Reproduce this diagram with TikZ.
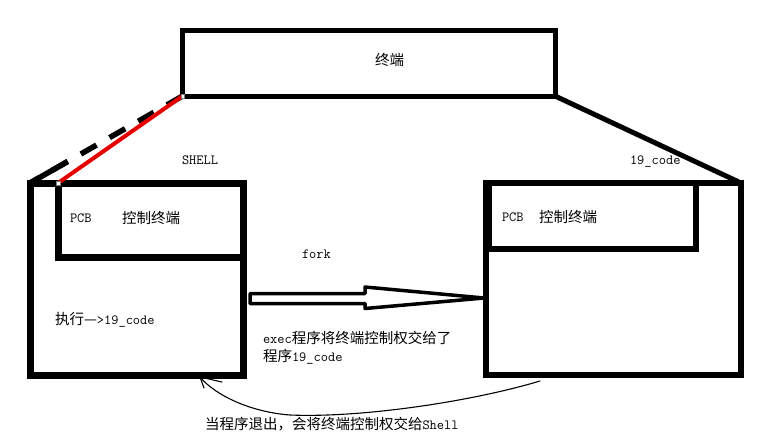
\documentclass[tikz,border=0pt]{standalone}
\usepackage{fontspec}
\setmonofont{Latin Modern Mono}
\newfontfamily\cjkfont{Noto Sans CJK SC}
\usetikzlibrary{calc}
\newcommand{\zh}[1]{{\cjkfont\fontsize{14.5pt}{18pt}\selectfont #1}}
\begin{document}
\begin{tikzpicture}[x=1pt,y=-1pt,
  box/.style={draw=black, inner sep=0pt, outer sep=0pt},
  txt/.style={inner sep=0pt, outer sep=0pt, anchor=west, font=\ttfamily\fontsize{14pt}{18pt}\selectfont},
  handle/.style={draw=gray, fill=white, line width=0.5pt, minimum size=3.5pt, inner sep=0pt, outer sep=0pt},
  thin/.style={line width=1.1pt, line cap=round, line join=round}]
\useasboundingbox[fill=white] (0,0) rectangle (781,447);

% boxes
\node[box, line width=5pt, minimum width=372.5pt, minimum height=66pt] (term) at (368.75,63) {};
\node[box, line width=7pt, minimum width=213pt, minimum height=192pt] (lbox) at (136.5,279) {};
\node[box, line width=7pt, minimum width=185pt, minimum height=74pt] (lpcb) at (150.5,220) {};
\node[box, line width=6pt, minimum width=255pt, minimum height=192pt] (rbox) at (613.5,279) {};
\node[box, line width=6pt, minimum width=207pt, minimum height=66pt] (rpcb) at (592.5,216) {};

% connectors top
\draw[line width=5.5pt, dash pattern=on 18pt off 15pt] (term.south west) -- (lbox.north west);
\draw[line width=5.5pt] (lbox.north west) -- ($(lbox.north west)!43pt!(term.south west)$);
\draw[red!90!black, line width=4pt] (lpcb.north west) -- (term.south west);
\node[handle] (h1) at (lpcb.north west) {};
\node[handle] (h2) at (term.south west) {};
\draw[line width=5pt] (term.south east) -- (rbox.north east);

% texts
\node[txt] (termlbl) at (375,60) {\zh{终端}};
\node[txt] (shell) at (182,160) {SHELL};
\node[txt] (code) at (630,162) {19\_code};
\node[txt] (lpcbt) at (70,218) {PCB};
\node[txt] (lctl) at (122,218) {\zh{控制终端}};
\node[txt] (rpcbt) at (502,217) {PCB};
\node[txt] (rctl) at (539,217) {\zh{控制终端}};
\node[txt] (fork) at (302,254) {fork};
\node[txt] (exe) at (55,320) {\zh{执行—}>19\_code};
\node[txt, anchor=north west, align=left] (exec) at (263,331) {exec\zh{程序将终端控制权交给了}\\\zh{程序}19\_code};
\node[txt] (back) at (205,424) {\zh{当程序退出，会将终端控制权交给}Shell};

% hollow fork arrow
\coordinate (fa) at ($(lbox.east)+(7,19.5)$);
\coordinate (fb) at ($(rbox.west)+(-2,19)$);
\draw[line width=3.5pt, fill=white, line join=round]
  ($(fa)+(0,-5)$) -- ($(fa)+(115,-5)$) -- ($(fa)+(115,-11.5)$) -- (fb)
  -- ($(fa)+(115,10)$) -- ($(fa)+(115,5)$) -- ($(fa)+(0,5)$) -- cycle;

% return curve
\coordinate (cs) at ($(rbox.south west)+(54,6)$);
\coordinate (ct) at ($(lbox.south east)+(-43,2)$);
\draw[thin] (cs) .. controls (470,402) and (360,418) .. (290,415)
  .. controls (250,412) and (215,395) .. (ct);
\draw[thin] (ct) -- ++(22,5);
\draw[thin] (ct) -- ++(4,11);
\end{tikzpicture}
\end{document}
